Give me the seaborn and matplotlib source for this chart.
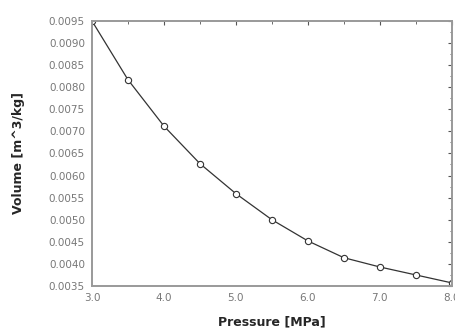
import numpy as np
import pandas as pd
import matplotlib
matplotlib.use("Agg")
import matplotlib.pyplot as plt
import seaborn as sns
from matplotlib.ticker import MultipleLocator, FormatStrFormatter

# Данные
pressure = [3.0, 3.5, 4.0, 4.5, 5.0, 5.5, 6.0, 6.5, 7.0, 7.5, 8.0]
volume = [0.0095, 0.00817, 0.00712, 0.00627, 0.00559, 0.00500,
          0.00452, 0.00414, 0.00393, 0.00375, 0.00357]

df = pd.DataFrame({"Pressure": pressure, "Volume": volume})

sns.set_style("white")
plt.rcParams["font.family"] = ["DejaVu Sans"]

fig = plt.figure(figsize=(4.55, 3.31), dpi=100)
ax = fig.add_axes([0.202, 0.136, 0.791, 0.801])

sns.lineplot(data=df, x="Pressure", y="Volume", ax=ax, color="#333333",
             linewidth=0.9, marker="o", markersize=4.5,
             markerfacecolor="white", markeredgecolor="#333333",
             markeredgewidth=0.8)

ax.set_xlim(3.0, 8.0)
ax.set_ylim(0.0035, 0.0095)
ax.xaxis.set_major_locator(MultipleLocator(1.0))
ax.xaxis.set_minor_locator(MultipleLocator(0.5))
ax.yaxis.set_major_locator(MultipleLocator(0.0005))
ax.yaxis.set_minor_locator(MultipleLocator(0.00025))
ax.xaxis.set_major_formatter(FormatStrFormatter("%.1f"))
ax.yaxis.set_major_formatter(FormatStrFormatter("%.4f"))

ax.tick_params(which="both", direction="in", top=True, right=True,
               colors="#555555", labelsize=7.5, labelcolor="#777777")
ax.tick_params(which="major", length=3, width=0.8, pad=5)
ax.tick_params(which="minor", length=1.8, width=0.6)

for s in ax.spines.values():
    s.set_color("#999999")
    s.set_linewidth(1.4)

ax.set_xlabel("Pressure [MPa]", fontsize=9, fontweight="bold", labelpad=9)
ax.set_ylabel("Volume [m^3/kg]", fontsize=9, fontweight="bold", labelpad=17)

fig.savefig("out.png", dpi=100)
